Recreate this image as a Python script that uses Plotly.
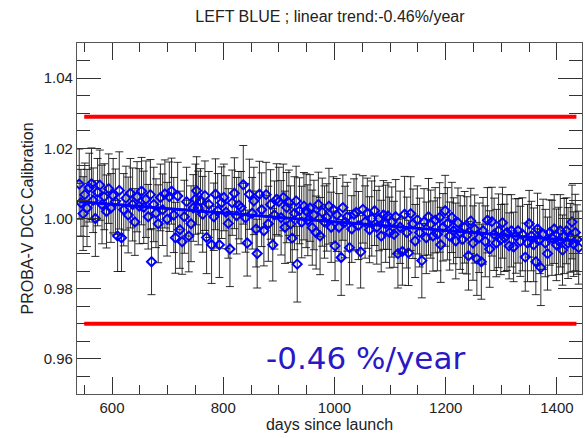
import plotly.graph_objects as go

# ---------------- data ----------------
days = [
    541, 544, 548, 551, 555, 559, 563, 566, 570, 574, 578, 582, 586, 590, 594,
    598, 602, 606, 610, 613, 617, 621, 625, 629, 633, 637, 641, 645, 649,
    653, 657, 661, 665, 669, 671, 675, 679, 683, 687, 691, 695, 699,
    703, 707, 711, 714, 718, 722, 726, 730, 734, 738, 742, 746, 750,
    752, 755, 759, 763, 767, 770, 774, 779, 783, 786, 790, 793, 797,
    801, 805, 809, 812, 816, 820, 824, 828, 832, 836, 840, 843, 847,
    852, 855, 859, 861, 865, 869, 873, 877, 881, 885, 889, 892, 896,
    900, 904, 908, 911, 914, 918, 921, 924, 928, 931, 933, 937, 941, 945, 949,
    952, 956, 960, 963, 967, 971, 974, 978, 982, 986, 990, 994, 998,
    1001, 1004, 1008, 1012, 1015, 1019, 1023, 1027, 1031, 1035, 1039, 1043, 1047,
    1051, 1055, 1059, 1063, 1067, 1072, 1076, 1080, 1084, 1088, 1092, 1096, 1099,
    1103, 1107, 1110, 1114, 1118, 1122, 1126, 1130, 1133, 1137, 1141, 1145, 1149,
    1153, 1157, 1161, 1165, 1169, 1173, 1177, 1181, 1185, 1189, 1191, 1195, 1199,
    1203, 1207, 1211, 1214, 1218, 1222, 1226, 1230, 1234, 1238, 1241, 1245, 1249,
    1252, 1256, 1260, 1264, 1267, 1271, 1275, 1279, 1283, 1287, 1291, 1295, 1299,
    1302, 1306, 1310, 1314, 1318, 1322, 1326, 1330, 1334, 1338, 1343, 1347, 1350,
    1354, 1358, 1362, 1365, 1369, 1371, 1375, 1379, 1383, 1387, 1391, 1395, 1399,
    1403, 1406, 1410, 1413, 1417, 1420, 1424, 1427, 1430, 1433, 1436, 1439,
]

calib = [
    1.0098, 1.0045, 1.0014, 1.0068, 1.0030, 1.0088, 1.0099, 1.0052, 1.0000, 1.0075, 1.0095, 1.0040, 1.0062, 1.0020, 1.0085,
    1.0030, 1.0065, 1.0048, 0.9950, 1.0080, 0.9945, 1.0025, 1.0058, 1.0010, 1.0072, 1.0040, 0.9990, 1.0062, 1.0035,
    1.0078, 1.0032, 1.0055, 1.0005, 1.0068, 0.9877, 1.0040, 1.0015, 0.9985, 1.0060, 1.0025, 1.0070, 0.9998,
    1.0062, 1.0078, 1.0010, 0.9945, 1.0064, 0.9968, 0.9934, 1.0005, 1.0048, 0.9950, 0.9985, 1.0030, 1.0055,
    1.0079, 1.0030, 1.0050, 1.0012, 1.0065, 0.9946, 1.0040, 0.9925, 1.0005, 1.0069, 1.0022, 0.9925, 1.0045,
    1.0060, 1.0018, 0.9986, 0.9913, 1.0045, 1.0072, 1.0008, 1.0038, 1.0031, 1.0096, 1.0002, 0.9930, 1.0069,
    1.0015, 1.0050, 0.9970, 0.9900, 1.0069, 1.0025, 0.9965, 1.0068, 0.9985, 1.0040, 0.9925, 1.0010, 1.0055,
    1.0048, 1.0002, 1.0060, 0.9975, 1.0031, 1.0045, 0.9984, 0.9944, 1.0015, 1.0050, 0.9870, 1.0022, 0.9990, 1.0035, 1.0022,
    0.9995, 1.0030, 0.9974, 1.0010, 0.9960, 1.0040, 0.9950, 1.0018, 0.9990, 1.0003, 1.0035, 0.9975, 1.0025,
    0.9922, 1.0010, 0.9975, 0.9889, 1.0031, 0.9990, 1.0005, 0.9917, 0.9970, 1.0012, 1.0017, 0.9980, 0.9905,
    1.0026, 0.9990, 1.0015, 0.9968, 1.0000, 1.0022, 0.9975, 1.0000, 0.9950, 1.0010, 0.9985, 1.0007, 0.9960,
    0.9990, 0.9955, 1.0005, 0.9900, 0.9975, 0.9906, 1.0012, 0.9960, 0.9902, 1.0014, 0.9985, 0.9936, 0.9996,
    0.9960, 0.9880, 0.9990, 0.9945, 1.0005, 0.9984, 0.9950, 0.9995, 0.9955, 1.0003, 0.9925, 0.9975, 1.0022,
    0.9985, 0.9950, 1.0003, 0.9965, 0.9936, 0.9988, 0.9960, 0.9940, 0.9975, 0.9952, 0.9894, 0.9993, 0.9930,
    0.9970, 0.9885, 0.9945, 0.9877, 0.9965, 0.9935, 0.9995, 0.9913, 0.9991, 0.9955, 0.9930, 0.9965, 0.9940,
    0.9988, 0.9945, 0.9960, 0.9922, 0.9965, 0.9919, 0.9950, 0.9965, 0.9935, 0.9955, 0.9890, 0.9930, 0.9985,
    0.9950, 0.9925, 0.9877, 0.9970, 0.9940, 0.9860, 0.9955, 0.9930, 0.9900, 0.9960, 0.9945, 0.9970, 0.9925,
    0.9936, 0.9965, 0.9910, 0.9950, 0.9965, 0.9930, 0.9945, 0.9990, 0.9927, 0.9960, 0.9940, 0.9917,
]

errors = [
    0.0100, 0.0095, 0.0105, 0.0090, 0.0110, 0.0098, 0.0102, 0.0092, 0.0108, 0.0096, 0.0100, 0.0112, 0.0094, 0.0104, 0.0099,
    0.0098, 0.0106, 0.0093, 0.0101, 0.0110, 0.0096, 0.0103, 0.0091, 0.0108, 0.0099, 0.0104, 0.0095, 0.0100, 0.0107,
    0.0096, 0.0103, 0.0109, 0.0092, 0.0100, 0.0094, 0.0106, 0.0098, 0.0111, 0.0095, 0.0102, 0.0097, 0.0105,
    0.0099, 0.0094, 0.0107, 0.0101, 0.0096, 0.0110, 0.0093, 0.0104, 0.0098, 0.0102, 0.0108, 0.0095, 0.0100,
    0.0097, 0.0105, 0.0092, 0.0108, 0.0099, 0.0103, 0.0094, 0.0110, 0.0096, 0.0101, 0.0106, 0.0093, 0.0102,
    0.0095, 0.0104, 0.0099, 0.0107, 0.0093, 0.0101, 0.0109, 0.0096, 0.0103, 0.0112, 0.0098, 0.0094, 0.0100,
    0.0102, 0.0096, 0.0108, 0.0098, 0.0094, 0.0105, 0.0100, 0.0092, 0.0107, 0.0099, 0.0103, 0.0097, 0.0101,
    0.0098, 0.0106, 0.0095, 0.0103, 0.0100, 0.0093, 0.0109, 0.0097, 0.0104, 0.0099, 0.0108, 0.0094, 0.0102, 0.0096, 0.0105,
    0.0101, 0.0095, 0.0107, 0.0099, 0.0104, 0.0092, 0.0110, 0.0097, 0.0103, 0.0096, 0.0108, 0.0100, 0.0094,
    0.0099, 0.0104, 0.0096, 0.0108, 0.0093, 0.0102, 0.0098, 0.0106, 0.0095, 0.0101, 0.0109, 0.0097, 0.0103,
    0.0096, 0.0103, 0.0100, 0.0094, 0.0107, 0.0099, 0.0105, 0.0092, 0.0102, 0.0098, 0.0110, 0.0095, 0.0101,
    0.0100, 0.0094, 0.0106, 0.0098, 0.0103, 0.0096, 0.0108, 0.0101, 0.0093, 0.0105, 0.0099, 0.0104, 0.0097,
    0.0098, 0.0106, 0.0095, 0.0102, 0.0109, 0.0097, 0.0100, 0.0093, 0.0104, 0.0099, 0.0107, 0.0096, 0.0101,
    0.0103, 0.0097, 0.0100, 0.0094, 0.0108, 0.0099, 0.0105, 0.0096, 0.0102, 0.0110, 0.0098, 0.0093, 0.0106,
    0.0097, 0.0104, 0.0099, 0.0107, 0.0095, 0.0101, 0.0093, 0.0109, 0.0098, 0.0103, 0.0096, 0.0105, 0.0100,
    0.0101, 0.0096, 0.0108, 0.0094, 0.0103, 0.0099, 0.0106, 0.0092, 0.0100, 0.0104, 0.0097, 0.0110, 0.0095,
    0.0099, 0.0105, 0.0094, 0.0102, 0.0097, 0.0108, 0.0100, 0.0096, 0.0104, 0.0093, 0.0107, 0.0098, 0.0102,
    0.0096, 0.0103, 0.0100, 0.0107, 0.0094, 0.0101, 0.0098, 0.0105, 0.0092, 0.0109, 0.0099, 0.0104,
]

trend_days = [541, 1439]
trend_vals = [1.0048, 0.9936]

limit_days = [550, 1435]
upper_limit = [1.029, 1.029]
lower_limit = [0.970, 0.970]

title_text = "LEFT BLUE ; linear trend:-0.46%/year"
trend_label = "-0.46 %/year"
label_pos = (1056, 0.9603)

# ---------------- figure ----------------
fig = go.Figure()

fig.add_trace(go.Scatter(
    x=days, y=calib, mode="markers",
    marker=dict(size=1, opacity=0),
    error_y=dict(type="data", array=errors, visible=True,
                 color="rgba(10,10,10,0.85)", thickness=1, width=4),
    hoverinfo="skip", showlegend=False,
))

fig.add_trace(go.Scatter(
    x=days, y=calib, mode="markers",
    marker=dict(symbol="diamond-open", size=7, color="#0000ff",
                line=dict(width=2, color="#0000ff")),
    showlegend=False,
))

fig.add_trace(go.Scatter(
    x=trend_days, y=trend_vals, mode="lines",
    line=dict(color="#0000ff", width=3), showlegend=False,
))

for yy in (upper_limit, lower_limit):
    fig.add_trace(go.Scatter(
        x=limit_days, y=yy, mode="lines",
        line=dict(color="#ff0000", width=4), showlegend=False,
    ))

fig.add_annotation(
    x=label_pos[0], y=label_pos[1], xref="x", yref="y",
    text=trend_label, showarrow=False,
    font=dict(family="DejaVu Sans", size=31, color="#2a18c6"),
)

tick_font = dict(family="Liberation Sans, Arial, sans-serif", size=15, color="#222")
title_font = dict(family="Liberation Sans, Arial, sans-serif", size=16, color="#222")

fig.update_layout(
    width=585, height=438,
    margin=dict(l=77, r=3, t=43, b=44),
    paper_bgcolor="white", plot_bgcolor="white",
    title=dict(text=title_text, x=0.564, xanchor="center", y=0.975, yanchor="top",
               font=dict(family="Liberation Sans, Arial, sans-serif", size=16, color="#222")),
    font=tick_font,
)

fig.update_xaxes(
    range=[537, 1445], tickmode="array", tickvals=[600, 800, 1000, 1200, 1400],
    ticks="inside", ticklen=17, tickcolor="#333", tickwidth=1,
    showline=True, linecolor="#555", linewidth=1.2, mirror="ticks",
    showgrid=False, zeroline=False,
    minor=dict(ticks="inside", ticklen=9, dtick=50, tick0=0, tickcolor="#333", showgrid=False),
    title=dict(text="days since launch", standoff=2, font=title_font),
    tickfont=tick_font,
)

fig.update_yaxes(
    range=[0.95, 1.05], tickmode="array", tickvals=[0.96, 0.98, 1.00, 1.02, 1.04],
    ticktext=["0.96", "0.98", "1.00", "1.02", "1.04"],
    ticks="inside", ticklen=24, tickcolor="#333", tickwidth=1,
    showline=True, linecolor="#555", linewidth=1.2, mirror="ticks",
    showgrid=False, zeroline=False,
    minor=dict(ticks="inside", ticklen=13, dtick=0.005, tick0=0, tickcolor="#333", showgrid=False),
    title=dict(text="PROBA-V DCC Calibration", standoff=6, font=title_font),
    tickfont=tick_font,
)

fig.write_html("out.html")
